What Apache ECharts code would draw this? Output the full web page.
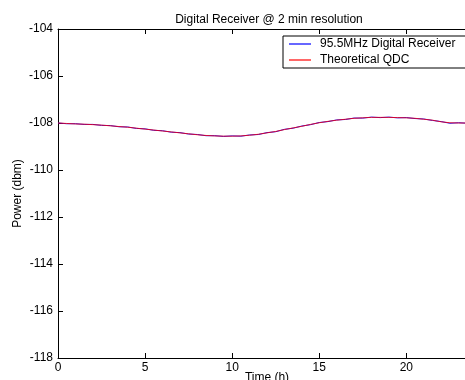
<!DOCTYPE html>
<html><head><meta charset="utf-8">
<script src="https://cdn.jsdelivr.net/npm/echarts@6/dist/echarts.min.js"></script>
<style>html,body{margin:0;padding:0;background:#fff}#c{width:465px;height:380px}</style>
</head><body><div id="c"></div>
<script>
const titleText = 'Digital Receiver @ 2 min resolution';
const xName = 'Time (h)';
const yName = 'Power (dbm)';
const seriesNames = ['95.5MHz Digital Receiver', 'Theoretical QDC'];
const timeH = [0,0.5,1,1.5,2,2.5,3,3.5,4,4.5,5,5.5,6,6.5,7,7.5,8,8.5,9,9.5,10,10.5,11,11.5,12,12.5,13,13.5,14,14.5,15,15.5,16,16.5,17,17.5,18,18.5,19,19.5,20,20.5,21,21.5,22,22.5,23,23.5,24];
const digital = [-108.00,-108.03,-108.03,-108.06,-108.06,-108.10,-108.11,-108.16,-108.17,-108.23,-108.25,-108.31,-108.33,-108.39,-108.41,-108.47,-108.49,-108.54,-108.54,-108.57,-108.55,-108.56,-108.51,-108.49,-108.41,-108.37,-108.27,-108.22,-108.13,-108.07,-107.98,-107.94,-107.87,-107.85,-107.79,-107.79,-107.75,-107.77,-107.75,-107.78,-107.77,-107.81,-107.83,-107.89,-107.94,-108.01,-107.99,-108.01,-108.00];
const theoretical = [-108.00,-108.02,-108.04,-108.05,-108.07,-108.09,-108.12,-108.15,-108.18,-108.22,-108.26,-108.30,-108.34,-108.38,-108.42,-108.46,-108.50,-108.53,-108.55,-108.56,-108.56,-108.55,-108.52,-108.48,-108.42,-108.36,-108.28,-108.21,-108.14,-108.06,-107.99,-107.93,-107.88,-107.84,-107.80,-107.78,-107.76,-107.76,-107.76,-107.77,-107.78,-107.80,-107.84,-107.88,-107.95,-107.99,-108.00,-108.00,-108.00];

const chart = echarts.init(document.getElementById('c'), null, {renderer:'canvas'});
const font = 'Liberation Sans, Arial, sans-serif';
const pair = a => timeH.map((t,i)=>[t,a[i]]);
const axisCommon = {
  axisLine:{show:true, onZero:false, lineStyle:{color:'#000', width:1}},
  axisTick:{show:true, inside:true, length:5, lineStyle:{color:'#000', width:1}},
  splitLine:{show:false}
};
chart.setOption({
  animation:false,
  backgroundColor:'#fff',
  title:{text:titleText, left:264, top:9, textAlign:'center',
    textStyle:{fontFamily:font, fontSize:12, fontWeight:'normal', color:'#000'}},
  legend:{orient:'vertical', left:283, top:36, padding:[2,14,2,6], itemGap:4,
    itemWidth:22, itemHeight:12, borderColor:'#000', borderWidth:1, backgroundColor:'#fff',
    textStyle:{fontFamily:font, fontSize:12, color:'#000', padding:[0,0,0,4]},
    data:seriesNames.map(n=>({name:n, icon:'path://M0,0 L22,0 L22,1.2 L0,1.2 Z'}))},
  grid:{left:58, top:29, width:418, height:329, containLabel:false, outerBoundsMode:'none'},
  xAxis:[
    Object.assign({type:'value', min:0, max:24, interval:5, position:'bottom',
      name:xName, nameLocation:'middle', nameGap:14, nameMoveOverlap:false,
      nameTextStyle:{fontFamily:font, fontSize:12, color:'#000'},
      axisLabel:{fontFamily:font, fontSize:12, color:'#000', margin:4, showMaxLabel:false}}, axisCommon),
    Object.assign({type:'value', min:0, max:24, interval:5, position:'top',
      axisLabel:{show:false}}, axisCommon)
  ],
  yAxis:[
    Object.assign({type:'value', min:-118, max:-104, interval:2, position:'left',
      name:yName, nameLocation:'middle', nameGap:34, nameMoveOverlap:false,
      nameTextStyle:{fontFamily:font, fontSize:12, color:'#000'},
      axisLabel:{fontFamily:font, fontSize:12, color:'#000', margin:5}}, axisCommon)
  ],
  series:[
    {name:seriesNames[0], type:'line', data:pair(digital), symbol:'none',
      lineStyle:{color:'#0000ff', width:1}, itemStyle:{color:'#0000ff'}},
    {name:seriesNames[1], type:'line', data:pair(theoretical), symbol:'none',
      lineStyle:{color:'#ff0000', width:1, opacity:0.8}, itemStyle:{color:'#ff0000'}}
  ]
});
</script></body></html>
